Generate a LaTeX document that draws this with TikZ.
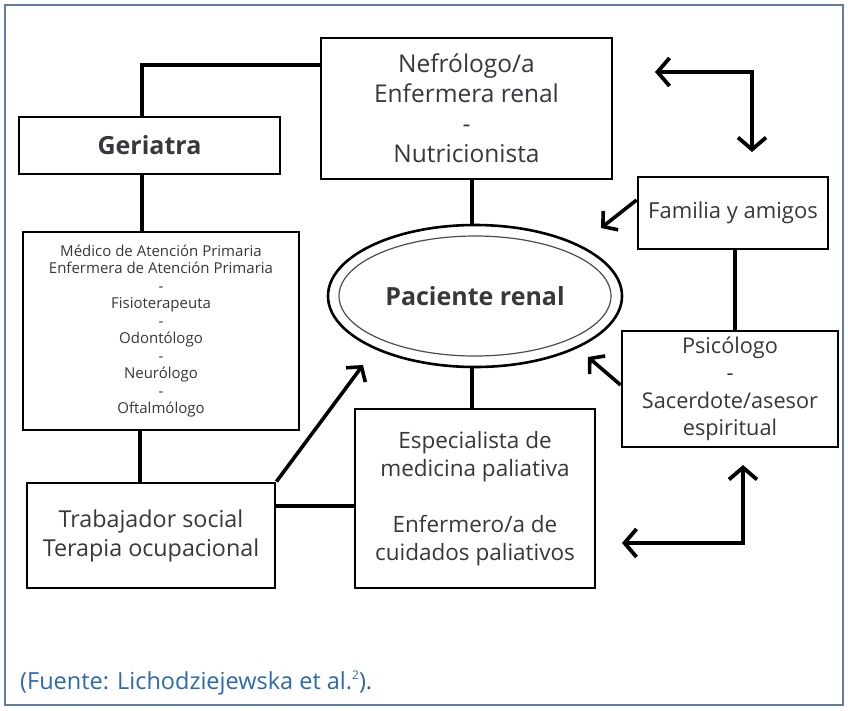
\documentclass[tikz,border=0pt]{standalone}
\usepackage{fontspec}
\setmainfont{Open Sans}
\usetikzlibrary{arrows.meta,shapes.geometric}
\definecolor{txt}{RGB}{55,55,60}
\definecolor{framecol}{RGB}{95,125,160}
\definecolor{capcol}{RGB}{45,105,175}
\begin{document}
\begin{tikzpicture}[x=1pt,y=-1pt,
  box/.style={draw, line width=2.8pt, inner sep=0pt, align=center, text=txt,
    font=\fontsize{22}{29}\selectfont},
  conn/.style={line width=3.6pt},
  arr/.style={line width=3.6pt, -{Straight Barb[length=10pt,width=24pt]}},
  bigarr/.style={line width=3.8pt},
  barb/.tip={Straight Barb[length=12pt,width=28pt]}]
\useasboundingbox (0,0) rectangle (848,710);
\fill[white] (0,0) rectangle (848,710);
\draw[framecol, line width=1.6pt] (5,5) rectangle (843,705);

\node[box, minimum width=291pt, minimum height=141pt,
  font=\fontsize{24.5}{30}\selectfont] (neph) at (466.5,108.5)
  {Nefrólogo/a\\Enfermera renal\\-\\Nutricionista};
\node[box, minimum width=261pt, minimum height=57pt,
  font=\fontsize{25}{28}\selectfont\bfseries] (ger) at (149.5,145.5) {Geriatra};
\node[box, minimum width=276pt, minimum height=198pt,
  font=\fontsize{15}{17.5}\selectfont] (med) at (161,331)
  {Médico de Atención Primaria\\Enfermera de Atención Primaria\\-\\Fisioterapeuta\\-\\Odontólogo\\-\\Neurólogo\\-\\Oftalmólogo};
\node[box, minimum width=248pt, minimum height=105pt,
  font=\fontsize{23.3}{29}\selectfont] (trab) at (151,535.5)
  {Trabajador social\\Terapia ocupacional};
\node[box, minimum width=240pt, minimum height=179pt,
  font=\fontsize{22.5}{28}\selectfont] (esp) at (475,498.5)
  {Especialista de\\medicina paliativa\\[28pt]Enfermero/a de\\cuidados paliativos};
\node[box, minimum width=190pt, minimum height=72pt] (fam) at (733,213)
  {Familia y amigos};
\node[box, minimum width=216pt, minimum height=116pt,
  font=\fontsize{21.7}{27.5}\selectfont] (psi) at (730,389)
  {Psicólogo\\-\\Sacerdote/asesor\\espiritual};
\node[ellipse, draw, line width=2.6pt, minimum width=294pt, minimum height=142pt,
  inner sep=0pt, text=txt, font=\fontsize{25}{28}\selectfont\bfseries] (pac) at (475,296)
  {Paciente renal};
\draw[black!70, line width=1.2pt] (pac.center) ellipse [x radius=136, y radius=60];

% connectors
\draw[conn] (neph.west |- 0,65) -| (ger.north -| 142,0);
\draw[conn] (ger.south -| 142,0) -- (med.north -| 142,0);
\draw[conn] (med.south -| 140,0) -- (trab.north -| 140,0);
\draw[conn] (trab.east |- 0,506) -- (esp.west |- 0,506);
\draw[conn] (neph.south -| 472,0) -- (pac.north -| 472,0);
\draw[conn] (pac.south -| 472,0) -- (esp.north -| 472,0);
\draw[conn] (fam.south -| 735,0) -- (psi.north -| 735,0);

\coordinate (t1) at (363,365);
\coordinate (t2) at (601,228);
\coordinate (t3) at (588,357);
\coordinate (e1a) at (655,72);
\coordinate (e1c) at (752,72);
\coordinate (e1b) at (752,152);
\coordinate (e2a) at (743,465);
\coordinate (e2c) at (743,543);
\coordinate (e2b) at (622,543);

\draw[arr] (trab.north east) -- (t1);
\draw[arr] (fam.west |- 0,200) -- (t2);
\draw[arr] (psi.west |- 0,385) -- (t3);
\draw[bigarr, barb-barb] (e1a) -- (e1c) -- (e1b);
\draw[bigarr, barb-barb] (e2a) -- (e2c) -- (e2b);

\node[anchor=west, text=capcol, font=\fontsize{23.5}{26}\selectfont, inner sep=0pt] (cap) at (20,683)
  {(Fuente: Lichodziejewska et al.\raisebox{0.75ex}{\fontsize{12}{12}\selectfont 2}).};
\end{tikzpicture}
\end{document}
